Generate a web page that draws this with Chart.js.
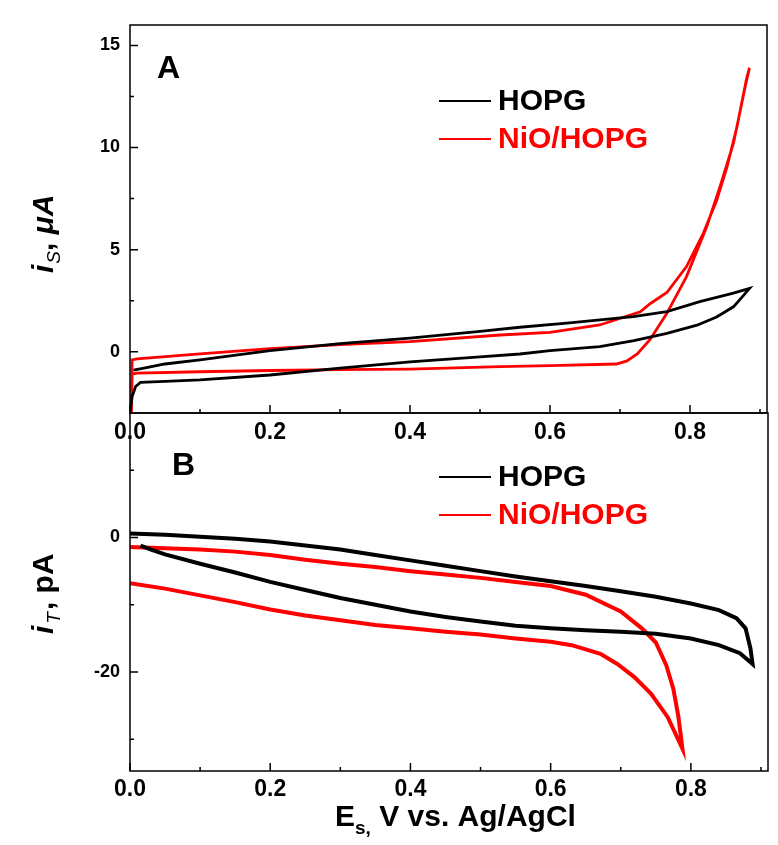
<!DOCTYPE html>
<html>
<head>
<meta charset="utf-8">
<script src="https://cdn.jsdelivr.net/npm/chart.js@4"></script>
<style>
  body { margin: 0; background: #fff; }
  #wrap { position: relative; width: 778px; height: 845px; }
  canvas { position: absolute; left: 0; top: 0; }
</style>
</head>
<body>
<div id="wrap">
  <canvas id="chartB" width="778" height="845"></canvas>
  <canvas id="chartA" width="778" height="845"></canvas>
</div>
<script>
// Panel A: corriente del sustrato i_S (µA) frente a E_s (V)
const hopgA_E = [0.000, 0.003, 0.008, 0.015, 0.05, 0.1, 0.2, 0.3, 0.4, 0.5, 0.557, 0.6, 0.671, 0.72, 0.767, 0.81, 0.838, 0.862, 0.875, 0.885,
                 0.862, 0.814, 0.767, 0.719, 0.624, 0.557, 0.5, 0.4, 0.3, 0.2, 0.1, 0.05, 0.02, 0.005];
const hopgA_I = [-3.0, -2.2, -1.7, -1.5, -1.45, -1.38, -1.14, -0.8, -0.5, -0.25, -0.11, 0.05, 0.25, 0.55, 0.9, 1.3, 1.7, 2.2, 2.7, 3.1,
                 2.87, 2.45, 1.96, 1.72, 1.4, 1.2, 1.0, 0.67, 0.4, 0.05, -0.4, -0.6, -0.8, -0.9];
const nioA_E = [0.002, 0.003, 0.01, 0.1, 0.2, 0.3, 0.4, 0.529, 0.6, 0.695, 0.71, 0.725, 0.743, 0.767, 0.795, 0.824, 0.843, 0.862, 0.879, 0.885,
                0.881, 0.867, 0.853, 0.838, 0.819, 0.795, 0.767, 0.743, 0.729, 0.671, 0.6, 0.529, 0.4, 0.3, 0.2, 0.1, 0.01, 0.003, 0.002];
const nioA_I = [-3.0, -1.1, -1.05, -0.98, -0.92, -0.88, -0.85, -0.73, -0.68, -0.6, -0.45, -0.1, 0.6, 1.88, 3.68, 6.13, 8.1, 10.2, 13.0, 13.9,
                13.4, 11.0, 9.07, 7.4, 5.8, 4.17, 2.9, 2.35, 1.96, 1.31, 0.95, 0.82, 0.5, 0.35, 0.15, -0.1, -0.35, -0.4, -2.5];

// Panel B: corriente de la punta i_T (pA) frente a E_s (V)
const hopgB_E = [0, 0.05, 0.1, 0.15, 0.2, 0.25, 0.3, 0.35, 0.4, 0.45, 0.5, 0.55, 0.6, 0.65, 0.7, 0.75, 0.8, 0.84, 0.865, 0.878, 0.885, 0.888,
                 0.87, 0.84, 0.8, 0.75, 0.7, 0.65, 0.6, 0.55, 0.5, 0.45, 0.4, 0.35, 0.3, 0.25, 0.2, 0.15, 0.1, 0.05, 0.03, 0.015];
const hopgB_I = [0.6, 0.4, 0.1, -0.2, -0.6, -1.2, -1.8, -2.6, -3.4, -4.2, -5.0, -5.8, -6.5, -7.2, -8.0, -8.8, -9.8, -10.8, -12.0, -13.5, -16.5, -18.8,
                 -17.2, -16.0, -15.0, -14.3, -14.0, -13.8, -13.5, -13.1, -12.5, -11.8, -11.0, -10.0, -9.0, -7.8, -6.6, -5.2, -3.9, -2.5, -1.8, -1.2];
const nioB_E = [0, 0.05, 0.1, 0.15, 0.2, 0.25, 0.3, 0.35, 0.4, 0.45, 0.5, 0.55, 0.6, 0.65, 0.7, 0.73, 0.75, 0.765, 0.775, 0.782, 0.788,
                0.767, 0.743, 0.719, 0.695, 0.671, 0.63, 0.6, 0.55, 0.5, 0.45, 0.4, 0.35, 0.3, 0.25, 0.2, 0.15, 0.1, 0.05, 0];
const nioB_I = [-1.4, -1.6, -1.8, -2.1, -2.6, -3.3, -3.9, -4.4, -5.0, -5.5, -6.0, -6.6, -7.2, -8.5, -11.0, -13.5, -15.6, -19.0, -22.5, -26.5, -31.4,
                -26.7, -23.2, -20.7, -18.8, -17.3, -16.0, -15.5, -15.0, -14.4, -14.0, -13.5, -13.0, -12.3, -11.6, -10.7, -9.6, -8.6, -7.6, -6.8];

// Marcas de los ejes
const ejeX_mayores = [0, 0.2, 0.4, 0.6, 0.8];
const ejeX_menores = [0.1, 0.3, 0.5, 0.7, 0.9];
const ejeYA_mayores = [0, 5, 10, 15];
const ejeYA_menores = [2.5, 7.5, 12.5];
const ejeYB_mayores = [0, -20];
const ejeYB_menores = [10, -10, -30];

const nombresSeries = ['HOPG', 'NiO/HOPG'];
const coloresSeries = ['#000000', '#ff0000'];

const FUENTE = '"Liberation Sans", Arial, sans-serif';

// Convertir dos listas en puntos {x, y}
function puntos(E, I) {
    return E.map((e, k) => ({ x: e, y: I[k] }));
}

// Dibujar un texto compuesto por trozos (subíndices, cursivas)
function textoCompuesto(ctx, trozos, x, y) {
    let cx = x;
    trozos.forEach(t => {
        ctx.font = t.font + ' ' + FUENTE;
        ctx.fillStyle = t.color || '#000';
        ctx.fillText(t.t, cx, y + (t.dy || 0));
        cx += ctx.measureText(t.t).width + (t.extra || 0);
    });
}

// Plugin: marco, marcas hacia dentro, leyenda, letras y títulos
function pluginPanel(cfg) {
    return {
        id: 'panel' + cfg.letra,
        afterDraw(chart) {
            const ctx = chart.ctx;
            const a = chart.chartArea;
            const sx = chart.scales.x;
            const sy = chart.scales.y;
            ctx.save();
            ctx.strokeStyle = '#000';
            ctx.lineWidth = 1.5;
            ctx.strokeRect(a.left, a.top, a.right - a.left, a.bottom - a.top);

            // Marcas de los ejes
            ctx.beginPath();
            ejeX_mayores.forEach(v => { const p = sx.getPixelForValue(v); ctx.moveTo(p, a.bottom); ctx.lineTo(p, a.bottom - 8); });
            ejeX_menores.forEach(v => { const p = sx.getPixelForValue(v); ctx.moveTo(p, a.bottom); ctx.lineTo(p, a.bottom - 4); });
            cfg.yMayores.forEach(v => { const p = sy.getPixelForValue(v); ctx.moveTo(a.left, p); ctx.lineTo(a.left + 8, p); });
            cfg.yMenores.forEach(v => { const p = sy.getPixelForValue(v); ctx.moveTo(a.left, p); ctx.lineTo(a.left + 4, p); });
            ctx.stroke();

            // Letra del panel
            ctx.fillStyle = '#000';
            ctx.textBaseline = 'alphabetic';
            ctx.font = 'bold 32px ' + FUENTE;
            ctx.fillText(cfg.letra, cfg.letraX, cfg.letraY);

            // Leyenda
            nombresSeries.forEach((n, k) => {
                const ly = cfg.leyendaY + k * 38;
                ctx.strokeStyle = coloresSeries[k];
                ctx.lineWidth = 2;
                ctx.beginPath();
                ctx.moveTo(439, ly);
                ctx.lineTo(491, ly);
                ctx.stroke();
                ctx.fillStyle = coloresSeries[k];
                ctx.font = 'bold 30px ' + FUENTE;
                ctx.textBaseline = 'middle';
                ctx.fillText(n, 498, ly + 1);
            });

            // Título del eje Y (girado)
            ctx.save();
            ctx.translate(53, cfg.tituloY);
            ctx.rotate(-Math.PI / 2);
            ctx.textBaseline = 'alphabetic';
            textoCompuesto(ctx, cfg.tituloTrozos, 0, 0);
            ctx.restore();

            // Título del eje X (sólo en el panel inferior)
            if (cfg.tituloX) {
                ctx.textBaseline = 'alphabetic';
                textoCompuesto(ctx, [
                    { t: 'E', font: 'bold 30px' },
                    { t: 's,', font: 'bold 19px', dy: 8 },
                    { t: ' V vs. Ag/AgCl', font: 'bold 30px' }
                ], 335, 826);
            }
            ctx.restore();
        }
    };
}

// Crear un panel
function crearPanel(idCanvas, series, cfg) {
    const ctx = document.getElementById(idCanvas).getContext('2d');
    return new Chart(ctx, {
        type: 'scatter',
        data: {
            datasets: series.map((s, k) => ({
                label: nombresSeries[k],
                data: s,
                showLine: true,
                borderColor: coloresSeries[k],
                backgroundColor: coloresSeries[k],
                borderWidth: cfg.grosor,
                pointRadius: 0,
                tension: 0
            }))
        },
        options: {
            responsive: false,
            animation: false,
            devicePixelRatio: 1,
            layout: { padding: cfg.relleno },
            plugins: { legend: { display: false }, tooltip: { enabled: false } },
            scales: {
                x: {
                    type: 'linear',
                    min: 0,
                    max: 0.91,
                    afterBuildTicks: s => { s.ticks = ejeX_mayores.map(v => ({ value: v })); },
                    afterFit: s => { s.height = 40; },
                    ticks: {
                        callback: v => v.toFixed(1),
                        font: { family: FUENTE, size: 23, weight: 'bold' },
                        color: '#000',
                        padding: cfg.rellenoX,
                        autoSkip: false,
                        maxRotation: 0
                    },
                    grid: { display: false, drawTicks: false },
                    border: { display: false }
                },
                y: {
                    type: 'linear',
                    min: cfg.yMin,
                    max: cfg.yMax,
                    afterBuildTicks: s => { s.ticks = cfg.yMayores.map(v => ({ value: v })); },
                    afterFit: s => { s.width = 130; },
                    ticks: {
                        callback: v => String(v),
                        font: { family: FUENTE, size: 18, weight: 'bold' },
                        color: '#000',
                        padding: 10,
                        autoSkip: false
                    },
                    grid: { display: false, drawTicks: false },
                    border: { display: false }
                }
            }
        },
        plugins: [pluginPanel(cfg)]
    });
}

crearPanel('chartB', [puntos(hopgB_E, hopgB_I), puntos(nioB_E, nioB_I)], {
    letra: 'B', letraX: 172, letraY: 475,
    leyendaY: 477,
    yMin: -34.7, yMax: 18.5,
    yMayores: ejeYB_mayores, yMenores: ejeYB_menores,
    relleno: { top: 413, right: 10, bottom: 34, left: 0 },
    rellenoX: 5,
    grosor: 4,
    tituloY: 634,
    tituloTrozos: [
        { t: 'i', font: 'italic bold 30px', extra: 2 },
        { t: 'T', font: 'italic 19px', dy: 7, extra: 2 },
        { t: ', pA', font: 'bold 30px' }
    ],
    tituloX: true
});

crearPanel('chartA', [puntos(hopgA_E, hopgA_I), puntos(nioA_E, nioA_I)], {
    letra: 'A', letraX: 157, letraY: 78,
    leyendaY: 101,
    yMin: -3, yMax: 16,
    yMayores: ejeYA_mayores, yMenores: ejeYA_menores,
    relleno: { top: 25, right: 11, bottom: 392, left: 0 },
    rellenoX: 6,
    grosor: 2.8,
    tituloY: 273,
    tituloTrozos: [
        { t: 'i', font: 'italic bold 30px', extra: 1 },
        { t: 'S', font: 'italic 19px', dy: 7 },
        { t: ', ', font: 'bold 30px' },
        { t: 'μA', font: 'italic bold 30px' }
    ],
    tituloX: false
});
</script>
</body>
</html>
